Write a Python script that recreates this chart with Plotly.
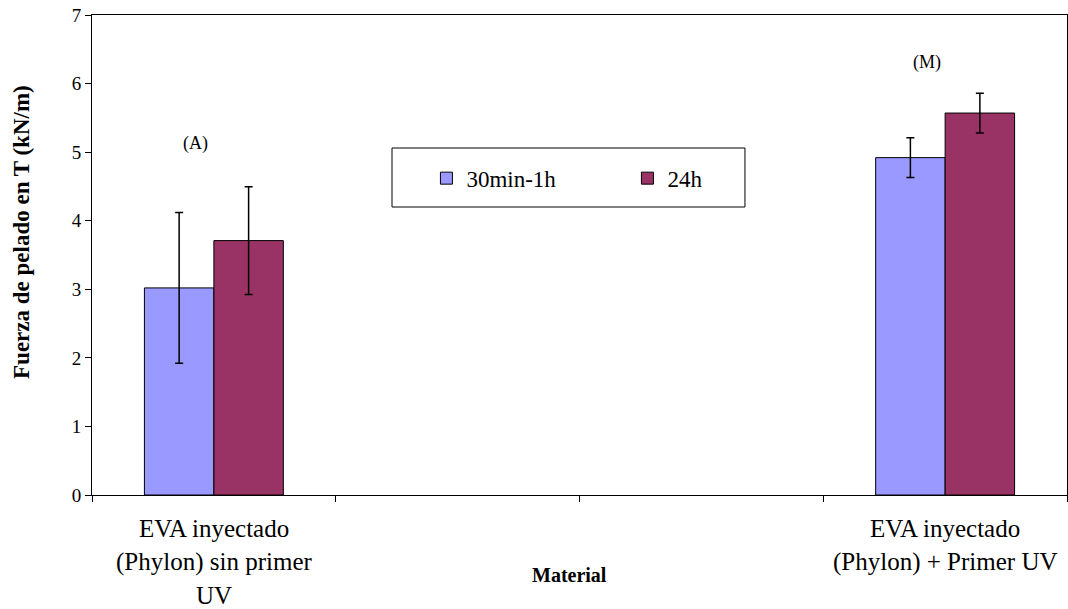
import plotly.graph_objects as go

# Peel strength data (kN/m) per material and curing time
categories = ["sin_primer", "blank_1", "blank_2", "con_primer"]
category_text = [
    ["EVA inyectado", "(Phylon) sin primer", "UV"],
    [],
    [],
    ["EVA inyectado", "(Phylon) + Primer UV"],
]
materials = [categories[0], categories[3]]
series_names = ["30min-1h", "24h"]
values_short = [3.02, 4.92]
errors_short = [1.10, 0.29]
values_long = [3.71, 5.57]
errors_long = [0.785, 0.29]
group_labels = ["(A)", "(M)"]
label_y = [5.13, 6.31]

font_family = "Liberation Serif, Times New Roman, serif"
colors = ["#9999FF", "#993366"]

fig = go.Figure()
for name, vals, errs, col in zip(series_names, [values_short, values_long],
                                 [errors_short, errors_long], colors):
    fig.add_trace(go.Bar(
        x=materials, y=vals, name=name,
        marker=dict(color=col, line=dict(color="black", width=1)),
        error_y=dict(type="data", array=errs, color="black", thickness=1.5, width=4),
    ))

fig.update_layout(
    width=1068, height=609,
    margin=dict(l=92, r=1, t=15, b=114),
    paper_bgcolor="white", plot_bgcolor="white",
    barmode="group", bargap=0.43, bargroupgap=0,
    font=dict(family=font_family, color="black"),
    showlegend=True,
    legend=dict(
        orientation="h", x=0.343, y=0.66, xanchor="left", yanchor="middle",
        bgcolor="rgba(0,0,0,0)", font=dict(size=23, family=font_family, color="black"),
        entrywidth=156, traceorder="normal",
    ),
)

fig.update_xaxes(
    type="category", categoryorder="array", categoryarray=categories,
    range=[-0.5, 3.5], tickson="boundaries", showticklabels=False,
    showline=True, linecolor="black", linewidth=1, mirror=True,
    ticks="outside", ticklen=6, tickcolor="black",
    showgrid=False, zeroline=False,
)
fig.update_yaxes(
    range=[0, 7], dtick=1, tick0=0,
    showline=True, linecolor="black", linewidth=1, mirror=True,
    ticks="outside", ticklen=6, tickcolor="black",
    tickfont=dict(size=19, family=font_family),
    showgrid=False, zeroline=False,
)

# Axis titles
fig.add_annotation(x=0, xref="paper", xshift=-70, y=0.548, yref="paper",
                   text="<b>Fuerza de pelado en T (kN/m)</b>", textangle=-90,
                   showarrow=False, xanchor="center", yanchor="middle",
                   font=dict(size=23, family=font_family, color="black"))
fig.add_annotation(x=0.49, xref="paper", y=0, yref="paper", yshift=-80,
                   text="<b>Material</b>", showarrow=False,
                   xanchor="center", yanchor="middle",
                   font=dict(size=20, family=font_family, color="black"))

# Multi-line category labels under the axis
line_step = 33.5
for cat, lines in zip(categories, category_text):
    for i, txt in enumerate(lines):
        fig.add_annotation(x=cat, xref="x", y=0, yref="paper", text=txt,
                           showarrow=False, yanchor="middle",
                           yshift=-(33 + i * line_step),
                           font=dict(size=25, family=font_family, color="black"))

# Legend frame
fig.add_shape(type="rect", xref="paper", yref="paper",
              x0=0.3077, x1=0.6697, y0=0.6, y1=0.7229,
              line=dict(color="black", width=1), fillcolor="rgba(0,0,0,0)")

# Group labels above the bars
for mat, txt, yy in zip(materials, group_labels, label_y):
    fig.add_annotation(x=mat, y=yy, text=txt, showarrow=False, xshift=-18,
                       font=dict(size=18, family=font_family, color="black"))

fig.write_html("out.html")
